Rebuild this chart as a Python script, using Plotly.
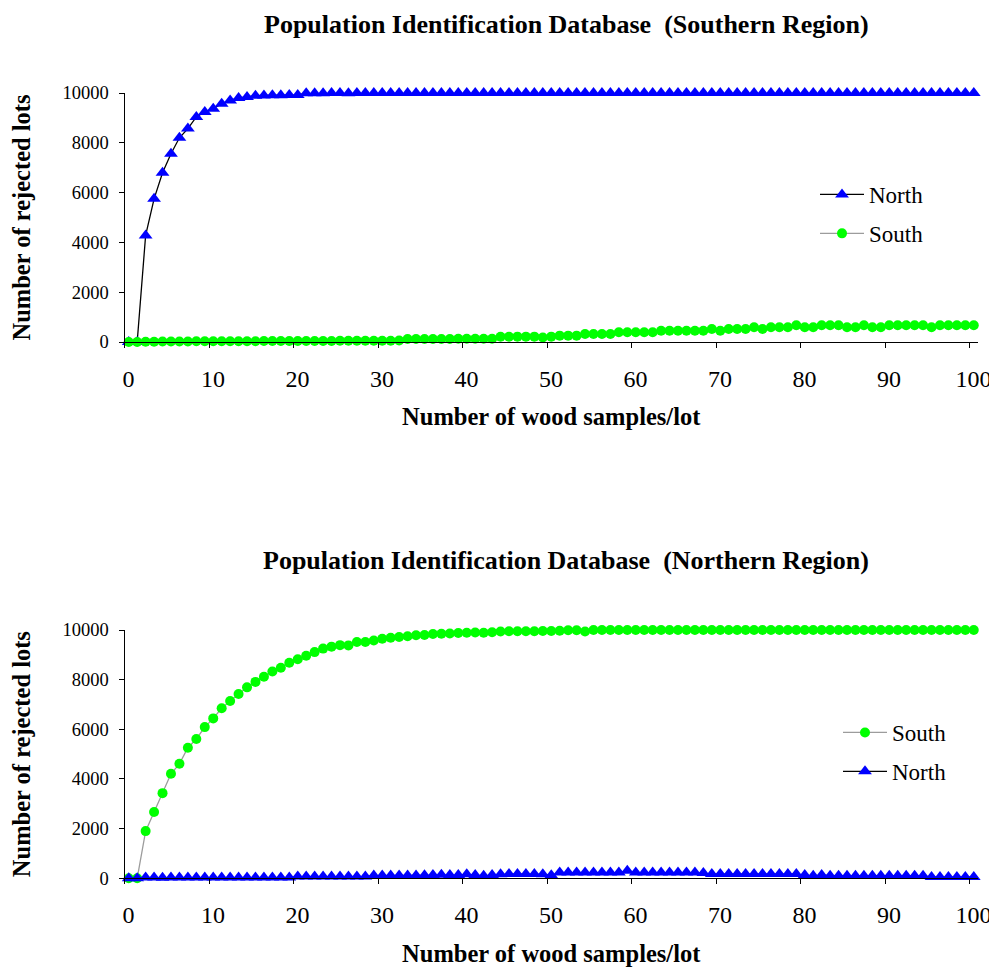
import plotly.graph_objects as go

samples = list(range(0, 101))
x_tick_labels = ["0", "10", "20", "30", "40", "50", "60", "70", "80", "90", "100"]
y_tick_values = [0, 2000, 4000, 6000, 8000, 10000]
y_tick_labels = ["0", "2000", "4000", "6000", "8000", "10000"]

# Southern Region database
south_db_north = [
    0, 0, 4280, 5750, 6800, 7560, 8200, 8570, 9040, 9240,
    9370, 9570, 9700, 9800, 9840, 9890, 9900, 9910, 9910, 9920,
    9920, 9990, 9990, 9990, 10000, 10000, 9990, 10000, 10000, 10000,
    10000, 10000, 10000, 10000, 10000, 10000, 10000, 10000, 10000, 10000,
    10000, 10000, 10000, 10000, 10000, 10000, 10000, 10000, 10000, 10000,
    10000, 10000, 10000, 10000, 10000, 10000, 10000, 10000, 10000, 10000,
    10000, 10000, 10000, 10000, 10000, 10000, 10000, 10000, 10000, 10000,
    10000, 10000, 10000, 10000, 10000, 10000, 10000, 10000, 10000, 10000,
    10000, 10000, 10000, 10000, 10000, 10000, 10000, 10000, 10000, 10000,
    10000, 10000, 10000, 10000, 10000, 10000, 10000, 10000, 10000, 10000,
    10000,
]
south_db_south = [
    0, 0, 10, 10, 20, 20, 20, 20, 30, 30,
    30, 30, 30, 30, 30, 30, 40, 40, 40, 40,
    40, 40, 40, 40, 40, 50, 50, 50, 50, 50,
    50, 50, 60, 120, 120, 120, 120, 120, 120, 130,
    130, 130, 130, 130, 210, 210, 215, 215, 215, 180,
    215, 255, 255, 255, 320, 320, 320, 320, 390, 390,
    390, 390, 390, 455, 455, 455, 455, 455, 455, 520,
    455, 520, 520, 520, 590, 520, 590, 590, 590, 670,
    590, 590, 670, 670, 670, 590, 590, 670, 590, 590,
    670, 670, 670, 670, 670, 590, 670, 670, 670, 670,
    670,
]

# Northern Region database
north_db_south = [
    0, 0, 1900, 2670, 3430, 4210, 4610, 5260, 5610, 6090,
    6440, 6850, 7140, 7420, 7690, 7910, 8120, 8330, 8480, 8680,
    8820, 8960, 9110, 9250, 9330, 9390, 9380, 9520, 9520, 9580,
    9650, 9690, 9720, 9750, 9790, 9800, 9840, 9850, 9860, 9880,
    9890, 9900, 9890, 9910, 9940, 9950, 9950, 9950, 9950, 9960,
    9960, 9970, 9990, 9990, 9940, 10000, 10000, 10000, 10000, 10000,
    10000, 10000, 10000, 10000, 10000, 10000, 10000, 10000, 10000, 10000,
    10000, 10000, 10000, 10000, 10000, 10000, 10000, 10000, 10000, 10000,
    10000, 10000, 10000, 10000, 10000, 10000, 10000, 10000, 10000, 10000,
    10000, 10000, 10000, 10000, 10000, 10000, 10000, 10000, 10000, 10000,
    10000,
]
north_db_north = [
    0, 0, 30, 30, 20, 30, 30, 30, 30, 30,
    30, 30, 30, 30, 30, 30, 30, 30, 30, 30,
    70, 70, 70, 70, 70, 70, 70, 70, 70, 110,
    110, 110, 110, 110, 110, 120, 130, 140, 130, 130,
    160, 130, 100, 130, 160, 170, 170, 170, 170, 160,
    120, 230, 230, 230, 230, 230, 230, 230, 230, 300,
    230, 230, 230, 230, 230, 230, 230, 230, 210, 170,
    170, 170, 170, 170, 170, 170, 170, 170, 170, 170,
    130, 100, 130, 100, 100, 100, 100, 100, 100, 100,
    100, 100, 100, 100, 100, 50, 50, 50, 50, 50,
    50,
]

# The page body has an 8px margin, so the figure is drawn 8px in from the
# top-left corner of the window.
OFF = 8
W, H = 997 - OFF, 967 - OFF


def px(xp):
    return (xp - OFF) / W


def py(yp):
    return 1 - (yp - OFF) / H


FONT = "Liberation Serif, Times New Roman, serif"
BLUE = "#0000FF"
GREEN = "#00FF00"
GRAY = "#9c9c9c"

fig = go.Figure()


def north_trace(y, xa, ya, legend):
    return go.Scatter(
        x=samples, y=y, name="North", mode="lines+markers",
        xaxis=xa, yaxis=ya, legend=legend, legendgroup="n" + legend,
        line=dict(color="black", width=1.3),
        marker=dict(symbol="triangle-up", size=12, color=BLUE),
        cliponaxis=False,
    )


def south_trace(y, xa, ya, legend):
    return go.Scatter(
        x=samples, y=y, name="South", mode="lines+markers",
        xaxis=xa, yaxis=ya, legend=legend, legendgroup="s" + legend,
        line=dict(color=GRAY, width=1.3),
        marker=dict(symbol="circle", size=10, color=GREEN),
        cliponaxis=False,
    )


fig.add_trace(north_trace(south_db_north, "x", "y", "legend"))
fig.add_trace(south_trace(south_db_south, "x", "y", "legend"))
fig.add_trace(south_trace(north_db_south, "x2", "y2", "legend2"))
fig.add_trace(north_trace(north_db_north, "x2", "y2", "legend2"))

x_dom = [px(124.5), px(978)]
top_dom = [py(342), py(93)]
bot_dom = [py(878.3), py(630)]

xaxis_common = dict(
    range=[-0.5, 100.5],
    tickvals=[-0.5, 9.5, 19.5, 29.5, 39.5, 49.5, 59.5, 69.5, 79.5, 89.5, 99.5],
    ticktext=x_tick_labels,
    ticklabelshift=4,
    ticklabelstandoff=10,
    ticks="outside", ticklen=5, tickcolor="black", tickwidth=1,
    showline=True, linecolor="black", linewidth=1,
    showgrid=False, zeroline=False, automargin=False,
    tickfont=dict(family=FONT, size=24, color="black"),
    title=dict(text="<b>Number of wood samples/lot</b>", standoff=17,
               font=dict(family=FONT, size=24.5, color="black")),
    domain=x_dom,
)
yaxis_common = dict(
    range=[0, 10000],
    tickvals=y_tick_values,
    ticktext=y_tick_labels,
    ticklabelstandoff=6,
    ticks="outside", ticklen=5, tickcolor="black", tickwidth=1,
    showline=True, linecolor="black", linewidth=1,
    showgrid=False, zeroline=False, automargin=False,
    tickfont=dict(family=FONT, size=18.5, color="black"),
    title=dict(text="<b>Number of rejected lots</b>", standoff=28,
               font=dict(family=FONT, size=24.5, color="black")),
)

fig.update_layout(
    width=W, height=H, autosize=False,
    margin=dict(l=0, r=0, t=0, b=0, autoexpand=False),
    paper_bgcolor="white", plot_bgcolor="white",
    font=dict(family=FONT, color="black"),
    xaxis=dict(xaxis_common, anchor="y"),
    yaxis=dict(yaxis_common, domain=top_dom, anchor="x"),
    xaxis2=dict(xaxis_common, anchor="y2"),
    yaxis2=dict(yaxis_common, domain=bot_dom, anchor="x2"),
    legend=dict(x=px(815), y=py(173), xanchor="left", yanchor="top",
                bgcolor="rgba(0,0,0,0)", font=dict(family=FONT, size=23),
                traceorder="grouped", tracegroupgap=6, itemwidth=44),
    legend2=dict(x=px(838), y=py(711), xanchor="left", yanchor="top",
                 bgcolor="rgba(0,0,0,0)", font=dict(family=FONT, size=23),
                 traceorder="grouped", tracegroupgap=6, itemwidth=44),
    showlegend=True,
    annotations=[
        dict(text="<b>Population Identification Database  (Southern Region)</b>",
             x=px(566), y=py(25), xref="paper", yref="paper",
             xanchor="center", yanchor="middle", showarrow=False,
             font=dict(family=FONT, size=26, color="black")),
        dict(text="<b>Population Identification Database  (Northern Region)</b>",
             x=px(566), y=py(560), xref="paper", yref="paper",
             xanchor="center", yanchor="middle", showarrow=False,
             font=dict(family=FONT, size=26, color="black")),
    ],
)

fig.write_html("out.html")
